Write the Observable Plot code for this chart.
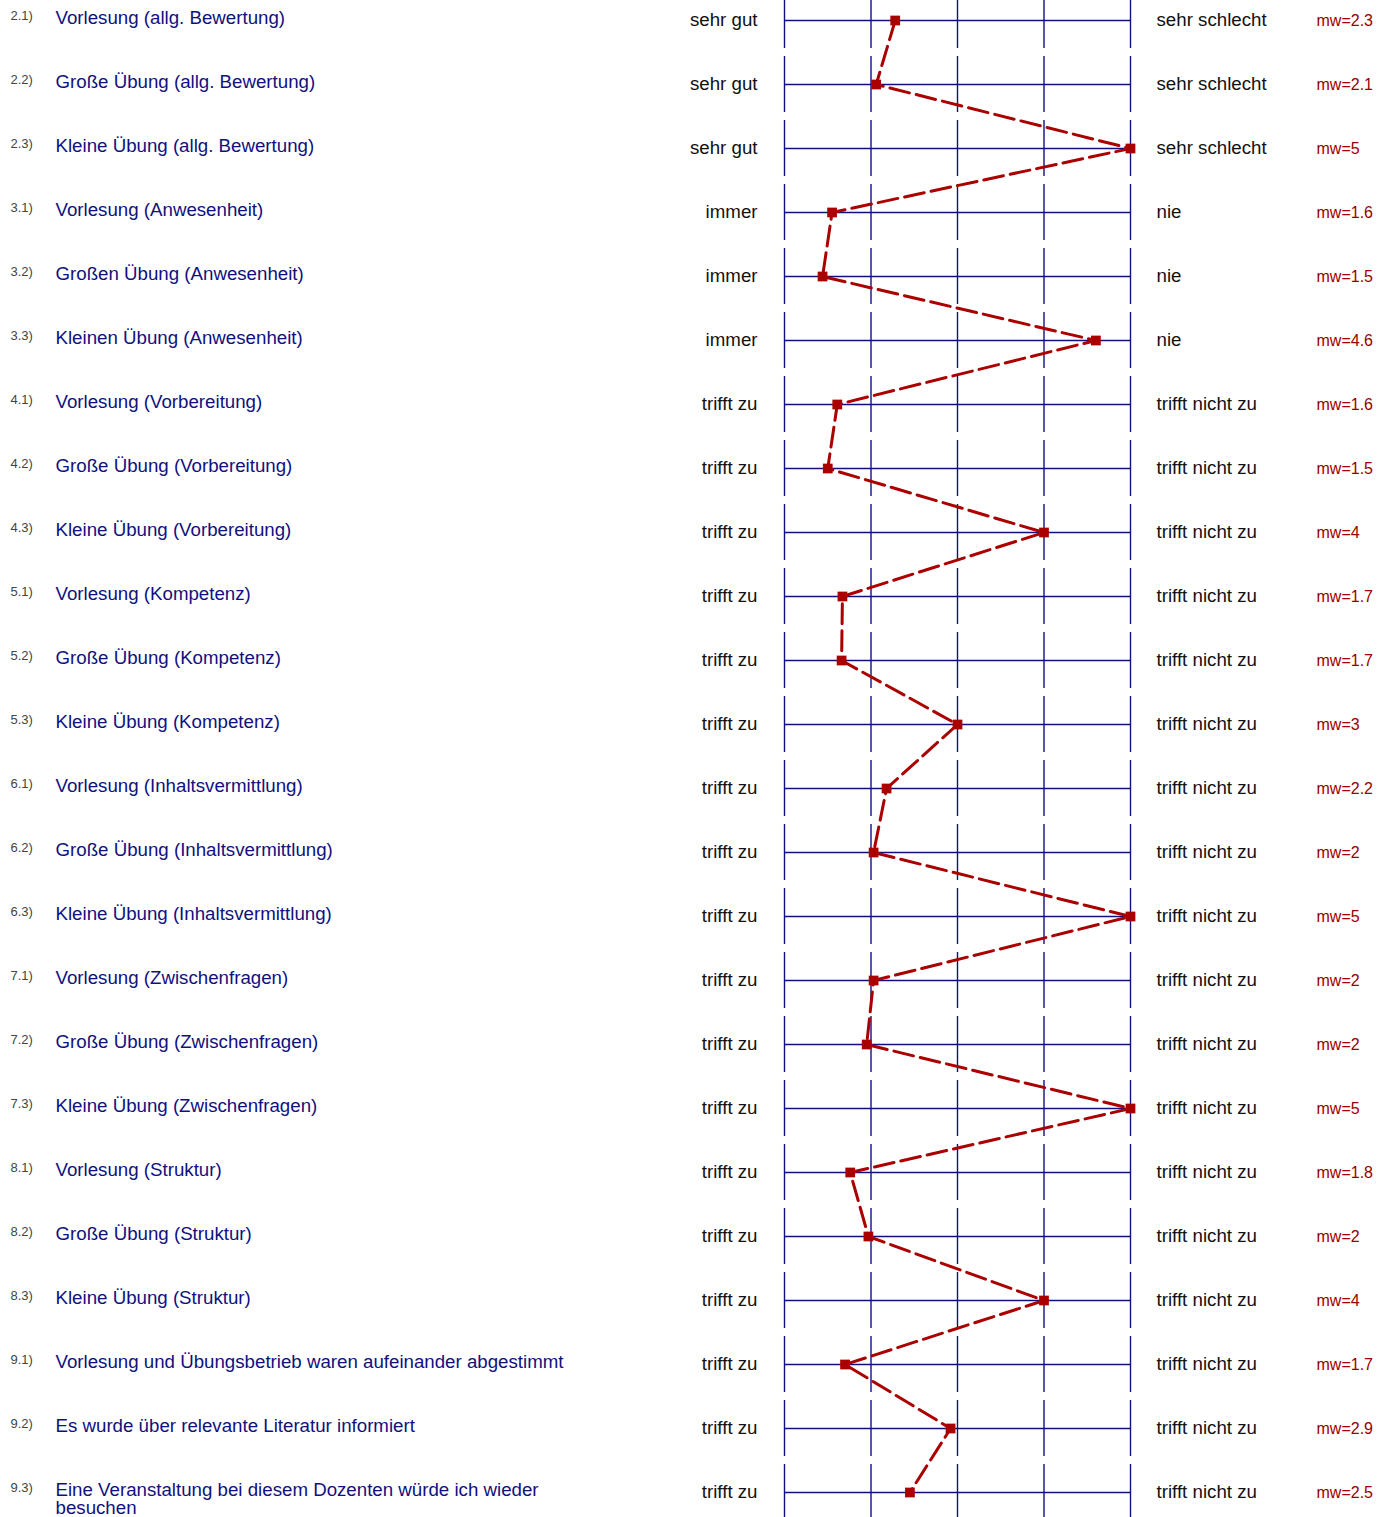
<!DOCTYPE html>
<html>
<head>
<meta charset="utf-8">
<script src="https://cdn.jsdelivr.net/npm/d3@7"></script>
<script src="https://cdn.jsdelivr.net/npm/@observablehq/plot@0.6"></script>
<style>
  html, body { margin: 0; padding: 0; background: #fff; }
  #chart svg { display: block; }
</style>
</head>
<body>
<div id="chart"></div>
<script>
const ids = ["2.1)","2.2)","2.3)","3.1)","3.2)","3.3)","4.1)","4.2)","4.3)","5.1)","5.2)","5.3)","6.1)","6.2)","6.3)","7.1)","7.2)","7.3)","8.1)","8.2)","8.3)","9.1)","9.2)","9.3)"];
const questions = [
  "Vorlesung (allg. Bewertung)",
  "Große Übung (allg. Bewertung)",
  "Kleine Übung (allg. Bewertung)",
  "Vorlesung (Anwesenheit)",
  "Großen Übung (Anwesenheit)",
  "Kleinen Übung (Anwesenheit)",
  "Vorlesung (Vorbereitung)",
  "Große Übung (Vorbereitung)",
  "Kleine Übung (Vorbereitung)",
  "Vorlesung (Kompetenz)",
  "Große Übung (Kompetenz)",
  "Kleine Übung (Kompetenz)",
  "Vorlesung (Inhaltsvermittlung)",
  "Große Übung (Inhaltsvermittlung)",
  "Kleine Übung (Inhaltsvermittlung)",
  "Vorlesung (Zwischenfragen)",
  "Große Übung (Zwischenfragen)",
  "Kleine Übung (Zwischenfragen)",
  "Vorlesung (Struktur)",
  "Große Übung (Struktur)",
  "Kleine Übung (Struktur)",
  "Vorlesung und Übungsbetrieb waren aufeinander abgestimmt",
  "Es wurde über relevante Literatur informiert",
  "Eine Veranstaltung bei diesem Dozenten würde ich wieder besuchen"
];
const leftLabels = ["sehr gut","sehr gut","sehr gut","immer","immer","immer",
  "trifft zu","trifft zu","trifft zu","trifft zu","trifft zu","trifft zu",
  "trifft zu","trifft zu","trifft zu","trifft zu","trifft zu","trifft zu",
  "trifft zu","trifft zu","trifft zu","trifft zu","trifft zu","trifft zu"];
const rightLabels = ["sehr schlecht","sehr schlecht","sehr schlecht","nie","nie","nie",
  "trifft nicht zu","trifft nicht zu","trifft nicht zu","trifft nicht zu","trifft nicht zu","trifft nicht zu",
  "trifft nicht zu","trifft nicht zu","trifft nicht zu","trifft nicht zu","trifft nicht zu","trifft nicht zu",
  "trifft nicht zu","trifft nicht zu","trifft nicht zu","trifft nicht zu","trifft nicht zu","trifft nicht zu"];
const means = [2.28, 2.06, 5, 1.55, 1.44, 4.6, 1.61, 1.5, 4, 1.67, 1.66, 3,
  2.18, 2.03, 5, 2.03, 1.95, 5, 1.76, 1.97, 4, 1.7, 2.92, 2.45];
const mwLabels = ["2.3","2.1","5","1.6","1.5","4.6","1.6","1.5","4","1.7","1.7","3",
  "2.2","2","5","2","2","5","1.8","2","4","1.7","2.9","2.5"];
const ticks = [1, 2, 3, 4, 5];

const rows = ids.map((id, i) => ({
  i, id, q: questions[i], left: leftLabels[i], right: rightLabels[i],
  mean: means[i], mw: "mw=" + mwLabels[i]
}));
const vseg = rows.flatMap(r => ticks.map(t => ({t, y1: r.i - 0.4375, y2: r.i + 0.4375})));

const navy = "#10107f";
const red = "#aa0000";
const font = "'Liberation Sans', Arial, sans-serif";

const chart = Plot.plot({
  width: 1390,
  height: 1517,
  marginLeft: 784,
  marginRight: 260,
  marginTop: 0,
  marginBottom: 0,
  style: {fontFamily: font, background: "#fff", overflow: "visible"},
  x: {domain: [1, 5], range: [784, 1130], axis: null},
  y: {domain: [0, rows.length - 1], range: [20, 20 + 64 * (rows.length - 1)], axis: null},
  marks: [
    Plot.ruleX(vseg, {x: "t", y1: "y1", y2: "y2", stroke: navy, strokeWidth: 1.4}),
    Plot.ruleY(rows, {y: "i", x1: () => 1, x2: () => 5, stroke: navy, strokeWidth: 1.3}),
    Plot.line(rows, {x: "mean", y: "i", stroke: red, strokeWidth: 3, strokeDasharray: "20,7", curve: "linear"}),
    Plot.dot(rows, {x: "mean", y: "i", symbol: "square", r: 5.5, fill: red, stroke: "none"}),
    Plot.text(rows, {x: () => 1, y: "i", text: "id", dx: -774, dy: -5, textAnchor: "start", fontSize: 13, fill: "#444"}),
    Plot.text(rows, {x: () => 1, y: "i", text: "q", dx: -729, dy: -9.5, textAnchor: "start", lineAnchor: "top", lineWidth: 31, lineHeight: 0.97, fontSize: 18.7, fill: navy}),
    Plot.text(rows, {x: () => 1, y: "i", text: "left", dx: -27, textAnchor: "end", fontSize: 18.7, fill: "#111"}),
    Plot.text(rows, {x: () => 5, y: "i", text: "right", dx: 26, textAnchor: "start", fontSize: 18.7, fill: "#111"}),
    Plot.text(rows, {x: () => 5, y: "i", text: "mw", dx: 186, textAnchor: "start", fontSize: 16, fill: "#990000"})
  ]
});
document.getElementById("chart").appendChild(chart);
</script>
</body>
</html>
